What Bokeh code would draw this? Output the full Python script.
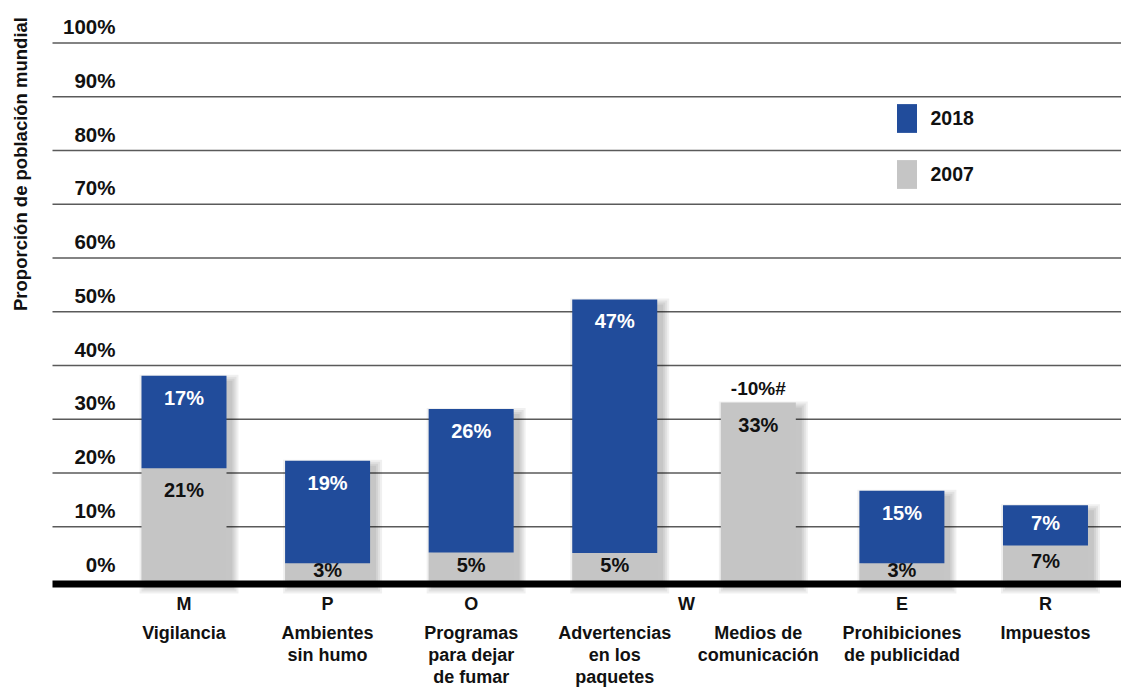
import math
from bokeh.plotting import figure
from bokeh.models import Range1d, ColumnDataSource, Legend, LegendItem
from bokeh.core.properties import value
from bokeh.embed import file_html
from bokeh.resources import INLINE

# ---------------- data ----------------
categories = ["Vigilancia", "Ambientes\nsin humo", "Programas\npara dejar\nde fumar",
              "Advertencias\nen los\npaquetes", "Medios de\ncomunicación",
              "Prohibiciones\nde publicidad", "Impuestos"]
groups = ["M", "P", "O", "W", "E", "R"]
group_members = [[0], [1], [2], [3, 4], [5], [6]]
base_2007 = [20.9, 3.2, 5.2, 5.1, 33.1, 3.2, 6.5]
gain_2018 = [17.2, 19.1, 26.7, 47.2, 0.0, 13.5, 7.5]
labels_2007 = ["21%", "3%", "5%", "5%", "33%", "3%", "7%"]
labels_2018 = ["17%", "19%", "26%", "47%", "", "15%", "7%"]
notes = ["", "", "", "", "-10%#", "", ""]
y_ticks = [0, 10, 20, 30, 40, 50, 60, 70, 80, 90, 100]
tick_labels = ["0%", "10%", "20%", "30%", "40%", "50%", "60%", "70%", "80%", "90%", "100%"]
series_names = ["2018", "2007"]
y_title = "Proporción de población mundial"

# ---------------- layout ----------------
W, H = 1121, 688
PX_X = 143.58          # pixels per category step
X0 = 183.5             # canvas x of first category
PX_Y = 5.375           # pixels per percent
Y0 = 580               # canvas y of 0 %

def cx(px_x):
    return (px_x - X0) / PX_X

def cy(px_y):
    return (Y0 - px_y) / PX_Y

def dx(px):
    return px / PX_X

def dy(px):
    return px / PX_Y

BLUE = "#214C9B"
GRAY = "#C5C5C5"
TXT = "#111111"
FONT_NAME = "Liberation Sans"
FONT = value(FONT_NAME)

p = figure(width=W, height=H,
           x_range=Range1d(-X0 / PX_X, (W - X0) / PX_X),
           y_range=Range1d(-(H - Y0) / PX_Y, Y0 / PX_Y),
           output_backend="svg", toolbar_location=None,
           x_axis_location=None, y_axis_location=None,
           min_border=0, outline_line_color=None)
p.xgrid.visible = False
p.ygrid.visible = False
p.background_fill_color = "white"
p.border_fill_color = "white"

n = len(categories)
xs = list(range(n))
widths = [dx(85) if g > 0 else dx(75) for g in gain_2018]
tops_2018 = [b + g for b, g in zip(base_2007, gain_2018)]
tops_all = [max(b, t) for b, t in zip(base_2007, tops_2018)]

# gridlines
x_grid_start = cx(52)
x_end = (W - X0) / PX_X
grid_src = ColumnDataSource(dict(y=y_ticks[1:], x0=[x_grid_start] * 10, x1=[x_end] * 10))
p.segment(x0="x0", y0="y", x1="x1", y1="y", source=grid_src,
          line_color="#5a5a5a", line_width=1.5)

# y tick labels (above the lines)
p.text(x=[cx(115)] * len(y_ticks), y=y_ticks, text=tick_labels,
       text_align="right", text_baseline="middle", y_offset=-16.5,
       text_font=FONT, text_font_style="bold", text_font_size="20.5px",
       text_color=TXT)

# soft shadows
OX, OY = 5, 6
for spread in (7, 5, 3, 1):
    sh = ColumnDataSource(dict(
        left=[x - w / 2 + dx(OX - spread) for x, w in zip(xs, widths)],
        right=[x + w / 2 + dx(OX + spread) for x, w in zip(xs, widths)],
        top=[t - dy(OY) + dy(spread) for t in tops_all],
        bottom=[-dy(OY) - dy(spread)] * n))
    p.quad(left="left", right="right", top="top", bottom="bottom", source=sh,
           fill_color="black", fill_alpha=0.06, line_color=None)

# 2007 bars
src = ColumnDataSource(dict(x=xs, w=widths, base=base_2007, zero=[0] * n))
r_gray = p.vbar(x="x", width="w", bottom="zero", top="base", source=src,
                fill_color=GRAY, line_color=None)

def lab_y(top, h):
    hp = h * PX_Y
    off = min(22, hp / 2 - 2)
    return top - dy(off)

p.text(x=xs, y=[lab_y(b, b) for b in base_2007], text=labels_2007,
       text_align="center", text_baseline="middle",
       text_font=FONT, text_font_style="bold", text_font_size="20px",
       text_color=TXT)

# 2018 bars (stacked on top of 2007)
xs_b = [x for x, g in zip(xs, gain_2018) if g > 0]
src_b = ColumnDataSource(dict(
    x=xs_b,
    w=[w for w, g in zip(widths, gain_2018) if g > 0],
    base=[b for b, g in zip(base_2007, gain_2018) if g > 0],
    top=[t for t, g in zip(tops_2018, gain_2018) if g > 0]))
r_blue = p.vbar(x="x", width="w", bottom="base", top="top", source=src_b,
                fill_color=BLUE, line_color=None)

p.text(x=xs_b, y=[lab_y(t, g) for t, g in zip(tops_2018, gain_2018) if g > 0],
       text=[l for l, g in zip(labels_2018, gain_2018) if g > 0],
       text_align="center", text_baseline="middle",
       text_font=FONT, text_font_style="bold", text_font_size="20px",
       text_color="white")

# notes above bars
p.text(x=[x for x, s in zip(xs, notes) if s],
       y=[t for t, s in zip(tops_all, notes) if s],
       text=[s for s in notes if s], y_offset=-14,
       text_align="center", text_baseline="middle",
       text_font=FONT, text_font_style="bold", text_font_size="19px",
       text_color=TXT)

# baseline
p.segment(x0=[x_grid_start], y0=[cy(583.5)], x1=[x_end], y1=[cy(583.5)],
          line_color="black", line_width=7)

# group letters
gx = [sum(m) / len(m) for m in group_members]
p.text(x=gx, y=[0] * len(groups), text=groups, y_offset=23.7,
       text_align="center", text_baseline="middle",
       text_font=FONT, text_font_style="bold", text_font_size="18px",
       text_color=TXT)

# category names (multi-line)
lx, ly, lt, lo = [], [], [], []
for i, name in enumerate(categories):
    for k, line in enumerate(name.split("\n")):
        lx.append(i)
        ly.append(0)
        lt.append(line)
        lo.append(52.5 + 21.8 * k)
p.text(x=lx, y=ly, text=lt, y_offset=lo,
       text_align="center", text_baseline="middle",
       text_font=FONT, text_font_style="bold", text_font_size="18px",
       text_color=TXT)

# y title
p.text(x=[cx(20)], y=[cy(163.5)], text=[y_title], angle=math.pi / 2,
       text_align="center", text_baseline="middle",
       text_font=FONT, text_font_style="bold", text_font_size="18.5px",
       text_color=TXT)

# legend
legend = Legend(items=[LegendItem(label=series_names[0], renderers=[r_blue]),
                       LegendItem(label=series_names[1], renderers=[r_gray])],
                location=(893.5, H - 192.4), glyph_width=25, glyph_height=36,
                label_height=36, spacing=20, padding=0, margin=0,
                label_standoff=12, border_line_color=None,
                background_fill_alpha=0,
                label_text_font=FONT_NAME, label_text_font_style="bold",
                label_text_font_size="19.5px", label_text_color=TXT,
                label_text_baseline="top")
p.add_layout(legend)

open("out.html", "w").write(file_html(p, INLINE))
